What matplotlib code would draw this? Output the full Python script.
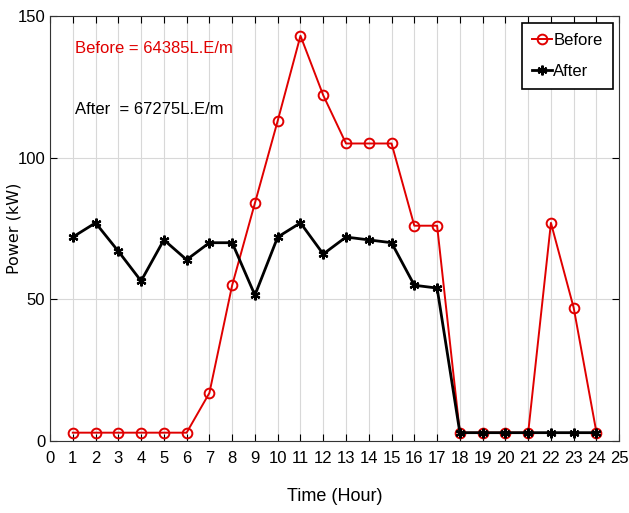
import matplotlib.pyplot as plt
import numpy as np

# Dati
hours = list(range(1, 25))
before = [3, 3, 3, 3, 3, 3, 17, 55, 84, 113, 143, 122, 105, 105, 105, 76, 76,
          3, 3, 3, 3, 77, 47, 3]
after = [72, 77, 67, 56.5, 71, 64, 70, 70, 51.5, 72, 77, 66, 72, 71, 70, 55, 54,
         3, 3, 3, 3, 3, 3, 3]
xticks = list(range(0, 26))
yticks = [0, 50, 100, 150]

plt.rcParams['font.family'] = ['Liberation Sans', 'DejaVu Sans']

fig = plt.figure(figsize=(6.29, 5.13), dpi=100)
ax = fig.add_axes([0.0795, 0.140, 0.905, 0.829])

ax.plot(hours, before, color='#e00000', lw=1.4, marker='o', ms=7,
        mfc='none', mec='#e00000', mew=1.4, label='Before', zorder=3)
ax.plot(hours, after, color='black', lw=2, marker=(6, 2, 0), ms=7,
        mew=1.6, label='After', zorder=4)

ax.set_xlim(0, 25)
ax.set_ylim(0, 150)
ax.set_xticks(xticks)
ax.set_yticks(yticks)
ax.tick_params(direction='in', top=True, right=True, labelsize=12, length=5)
ax.tick_params(axis='x', pad=7)
ax.grid(True, color='#d8d8d8', lw=0.8)
ax.set_axisbelow(True)
for s in ax.spines.values():
    s.set_color('#333333')

ax.set_xlabel('Time (Hour)', fontsize=13, labelpad=16)
ax.set_ylabel('Power (kW)', fontsize=11.5, family='DejaVu Sans')
ax.yaxis.set_label_coords(-0.05, 0.5)

ax.text(1.1, 138.5, 'Before = 64385L.E/m', color='#e00000', fontsize=12,
        va='center')
ax.text(1.1, 117, 'After  = 67275L.E/m', color='black', fontsize=12,
        va='center')

leg = ax.legend(loc='upper right', fontsize=12, fancybox=False,
                edgecolor='black', handlelength=1.2, handletextpad=0.1,
                borderaxespad=0.4, framealpha=1, labelspacing=1.0,
                borderpad=0.6)
leg.get_frame().set_linewidth(1.2)

fig.savefig('out.png', dpi=100)
